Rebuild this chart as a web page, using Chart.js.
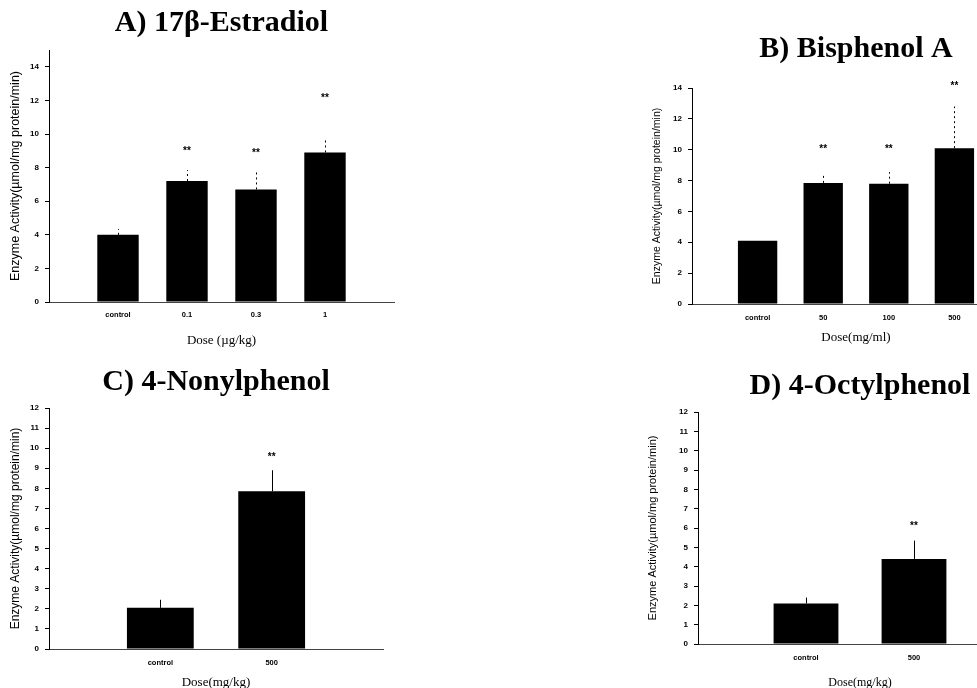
<!DOCTYPE html>
<html>
<head>
<meta charset="utf-8">
<script src="https://cdn.jsdelivr.net/npm/chart.js@4.4.0/dist/chart.umd.min.js"></script>
<style>
  html, body { margin: 0; padding: 0; background: #fff; width: 977px; height: 688px; overflow: hidden; }
  .panel { position: absolute; }
</style>
</head>
<body>
<div class="panel" id="panel-a"><canvas id="chart-a"></canvas></div>
<div class="panel" id="panel-b"><canvas id="chart-b"></canvas></div>
<div class="panel" id="panel-c"><canvas id="chart-c"></canvas></div>
<div class="panel" id="panel-d"><canvas id="chart-d"></canvas></div>
<script>
// A) 17beta-estradiol
const dosesA = ['control', '0.1', '0.3', '1'];
const activityA = [4.0, 7.2, 6.7, 8.9];
const errTopA = [4.35, 7.85, 7.8, 9.75];
const starsA = [null, 9.0, 8.85, 12.1];

// B) bisphenol A
const dosesB = ['control', '50', '100', '500'];
const activityB = [4.1, 7.85, 7.8, 10.1];
const errTopB = [null, 8.35, 8.55, 12.8];
const starsB = [null, 10.0, 10.0, 14.1];

// C) 4-nonylphenol
const dosesC = ['control', '500'];
const activityC = [2.05, 7.85];
const errTopC = [2.45, 8.9];
const starsC = [null, 9.55];

// D) 4-octylphenol
const dosesD = ['control', '500'];
const activityD = [2.1, 4.4];
const errTopD = [2.4, 5.35];
const starsD = [null, 6.1];

const Y_TITLE = 'Enzyme Activity(\u00b5mol/mg protein/min)';
const SERIF = "'Liberation Serif', 'Times New Roman', serif";
const SANS = "'Liberation Sans', Arial, sans-serif";

// error whiskers (upper only) and significance stars
function marksPlugin(errTop, stars, dash) {
  return {
    id: 'marks',
    afterDatasetsDraw(chart) {
      const ctx = chart.ctx;
      const y = chart.scales.y;
      const meta = chart.getDatasetMeta(0);
      ctx.save();
      ctx.strokeStyle = '#000';
      ctx.fillStyle = '#000';
      ctx.lineWidth = 1;
      ctx.setLineDash(dash);
      ctx.font = 'bold 10px ' + SANS;
      ctx.textAlign = 'center';
      ctx.textBaseline = 'middle';
      for (let i = 0; i < errTop.length; i++) {
        const bar = meta.data[i + 1];
        if (!bar) continue;
        if (errTop[i] != null) {
          const top = y.getPixelForValue(errTop[i]);
          ctx.beginPath();
          ctx.moveTo(Math.round(bar.x) + 0.5, bar.y);
          ctx.lineTo(Math.round(bar.x) + 0.5, top);
          ctx.stroke();
        }
        if (stars[i] != null) {
          ctx.fillText('**', bar.x, y.getPixelForValue(stars[i]));
        }
      }
      ctx.restore();
    }
  };
}

function makePanel(id, box, p) {
  const wrap = document.getElementById('panel-' + id);
  wrap.style.left = box.left + 'px';
  wrap.style.top = box.top + 'px';
  const canvas = document.getElementById('chart-' + id);
  canvas.width = box.width;
  canvas.height = box.height;
  canvas.style.width = box.width + 'px';
  canvas.style.height = box.height + 'px';

  return new Chart(canvas, {
    type: 'bar',
    data: {
      labels: ['', ...p.doses, ''],
      datasets: [{
        data: [null, ...p.values, null],
        backgroundColor: '#000',
        borderWidth: 0,
        barPercentage: 0.6,
        categoryPercentage: 1
      }]
    },
    options: {
      responsive: false,
      animation: false,
      layout: { padding: { left: 0, top: 0, right: box.padRight, bottom: 0 } },
      plugins: {
        legend: { display: false },
        tooltip: { enabled: false },
        title: {
          display: true,
          text: p.title,
          color: '#000',
          fullSize: false,
          font: { family: SERIF, size: 30, weight: 'bold', lineHeight: 1.2 },
          padding: { top: box.titleTop, bottom: box.titleBottom }
        }
      },
      scales: {
        x: {
          offset: false,
          grid: { display: false, drawTicks: false },
          border: { display: true, color: '#444', width: 1, dash: [2, 6] },
          ticks: {
            autoSkip: false,
            maxRotation: 0,
            padding: box.tickPad,
            color: '#000',
            font: { family: SANS, size: 7.5, weight: 'bold' }
          },
          title: {
            display: true,
            text: p.xTitle,
            color: '#000',
            font: { family: SERIF, size: box.xTitleSize },
            padding: { top: 4, bottom: box.xTitlePad }
          },
          afterFit: s => { s.height = box.xAxisH; }
        },
        y: {
          min: 0,
          max: p.max,
          grid: { display: true, drawOnChartArea: false, drawTicks: true, tickLength: 4, color: '#000' },
          border: { display: true, color: '#000', width: 1, dash: [9, 3] },
          ticks: {
            stepSize: p.step,
            padding: 6,
            color: '#000',
            font: { family: SANS, size: 8, weight: 'bold' }
          },
          afterBuildTicks: s => { s.ticks = s.ticks.filter(t => t.value % p.step === 0); },
          title: {
            display: true,
            text: Y_TITLE,
            color: '#000',
            font: { family: SANS, size: box.yTitleSize },
            padding: { top: 8, bottom: 0 }
          },
          afterFit: s => { s.width = box.yAxisW; }
        }
      }
    },
    plugins: [marksPlugin(p.errTop, p.stars, p.dash)]
  });
}

makePanel('a',
  { left: 0, top: 0, width: 420, height: 350, padRight: 26, titleTop: 5, titleBottom: 9, yAxisW: 49, xAxisH: 48, tickPad: 8,
    yTitleSize: 12.5, xTitleSize: 13, xTitlePad: 2 },
  { title: 'A) 17\u03b2-Estradiol', xTitle: 'Dose (\u00b5g/kg)', doses: dosesA, values: activityA,
    errTop: errTopA, stars: starsA, max: 15, step: 2, dash: [2, 3] });

makePanel('b',
  { left: 643, top: 20, width: 400, height: 328, padRight: 23, titleTop: 11, titleBottom: 21, yAxisW: 49, xAxisH: 44, tickPad: 9,
    yTitleSize: 10.5, xTitleSize: 13, xTitlePad: 3 },
  { title: 'B) Bisphenol A', xTitle: 'Dose(mg/ml)', doses: dosesB, values: activityB,
    errTop: errTopB, stars: starsB, max: 14, step: 2, dash: [2, 3] });

makePanel('c',
  { left: 0, top: 350, width: 400, height: 343, padRight: 17, titleTop: 14, titleBottom: 8, yAxisW: 49, xAxisH: 44, tickPad: 9,
    yTitleSize: 12, xTitleSize: 13, xTitlePad: 3 },
  { title: 'C) 4-Nonylphenol', xTitle: 'Dose(mg/kg)', doses: dosesC, values: activityC,
    errTop: errTopC, stars: starsC, max: 12, step: 1, dash: [] });

makePanel('d',
  { left: 638, top: 360, width: 400, height: 334, padRight: 16, titleTop: 8, titleBottom: 8, yAxisW: 60, xAxisH: 50, tickPad: 9,
    yTitleSize: 11, xTitleSize: 12, xTitlePad: 4 },
  { title: 'D) 4-Octylphenol', xTitle: 'Dose(mg/kg)', doses: dosesD, values: activityD,
    errTop: errTopD, stars: starsD, max: 12, step: 1, dash: [] });
</script>
</body>
</html>
